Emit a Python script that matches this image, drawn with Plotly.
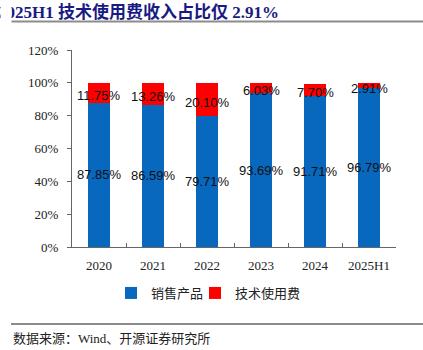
import plotly.graph_objects as go

categories = ["2020", "2021", "2022", "2023", "2024", "2025H1"]
sales = [87.85, 86.59, 79.71, 93.69, 91.71, 96.79]
fees = [11.75, 13.26, 20.10, 6.03, 7.70, 2.91]
series_names = ["销售产品", "技术使用费"]
title_text = "2025H1 技术使用费收入占比仅 2.91%"
source_text = "数据来源：Wind、开源证券研究所"

W, H = 423, 350
L, R, T, B = 72, 27, 50, 103
pw, ph = W - L - R, H - T - B

def px_x(x):
    return (x - L) / pw

def px_y(y):
    return (H - B - y) / ph

serif = "Liberation Serif, Times New Roman, serif"
cjk = "Noto Sans CJK SC, sans-serif"
lab_font = dict(family="Liberation Sans, Arial, sans-serif", size=13, color="#111111")

fig = go.Figure()
fig.add_trace(go.Bar(x=categories, y=sales, name=series_names[0],
                     marker=dict(color="#0868BE", line=dict(width=0)), width=0.4,
                     legend="legend", showlegend=True))
fig.add_trace(go.Bar(x=categories, y=fees, name=series_names[1],
                     marker=dict(color="#FF0000", line=dict(width=0)), width=0.4,
                     legend="legend2", showlegend=True))

annotations = []
for i, (s, f) in enumerate(zip(sales, fees)):
    annotations.append(dict(x=i, y=s / 2, xref="x", yref="y", text=f"{s:.2f}%",
                            showarrow=False, font=lab_font))
    annotations.append(dict(x=i, y=s + f / 2 - 1.5, xref="x", yref="y", text=f"{f:.2f}%",
                            showarrow=False, font=lab_font))

# title
annotations.append(dict(x=px_x(-4), y=px_y(12), xref="paper", yref="paper", xanchor="left",
                        yanchor="middle", text="<b>" + title_text + "</b>", showarrow=False,
                        font=dict(family="Liberation Serif, Noto Sans CJK SC, serif", size=17,
                                  color="#1a1a84")))
# clip box for title left edge
annotations.append(dict(x=px_x(0), y=px_y(12), xref="paper", yref="paper", xanchor="left",
                        yanchor="middle", text=" ", showarrow=False, bgcolor="white",
                        width=10, height=22, borderpad=0))
# source
annotations.append(dict(x=px_x(11), y=px_y(338), xref="paper", yref="paper", xanchor="left",
                        yanchor="middle", text=source_text, showarrow=False,
                        font=dict(family="Liberation Serif, Noto Sans CJK SC, serif", size=13,
                                  color="#222222")))

shapes = [
    dict(type="line", xref="paper", yref="paper", x0=px_x(11), x1=px_x(423),
         y0=px_y(21.5), y1=px_y(21.5), line=dict(color="#8c8c8c", width=2)),
    dict(type="line", xref="paper", yref="paper", x0=px_x(11), x1=px_x(423),
         y0=px_y(324), y1=px_y(324), line=dict(color="#8c8c8c", width=2)),
]

leg_common = dict(orientation="h", xanchor="left", y=px_y(293), yanchor="middle",
                  font=dict(family=cjk, size=13, color="#222222"), bgcolor="rgba(0,0,0,0)",
                  visible=True)

fig.update_layout(
    width=W, height=H, barmode="stack", showlegend=True,
    margin=dict(l=L, r=R, t=T, b=B),
    plot_bgcolor="white", paper_bgcolor="white",
    annotations=annotations, shapes=shapes,
    legend=dict(x=px_x(111), **leg_common),
    legend2=dict(x=px_x(195), **leg_common),
    xaxis=dict(type="category", showline=True, linecolor="#666666", linewidth=1,
               ticks="inside", ticklen=4, tickcolor="#666666", tickson="boundaries",
               tickfont=dict(family=serif, size=13, color="#222222"),
               ticklabelstandoff=6),
    yaxis=dict(range=[0, 120], dtick=20, ticksuffix="%", showgrid=False, zeroline=False,
               showline=True, linecolor="#666666", linewidth=1, ticks="outside",
               ticklen=4, tickcolor="#666666",
               tickfont=dict(family=serif, size=13, color="#222222"),
               ticklabelstandoff=6),
)

fig.write_html("out.html")
